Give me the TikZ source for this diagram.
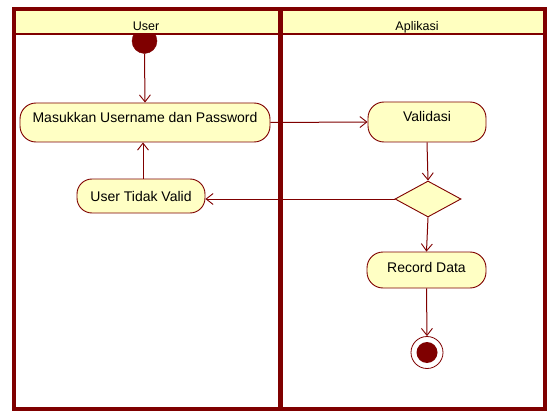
\documentclass[tikz,border=0pt]{standalone}
\usepackage{fontspec}
\setmainfont{Liberation Sans}
\usetikzlibrary{arrows.meta,shapes.geometric}
\definecolor{dred}{HTML}{7F0000}
\definecolor{nfill}{HTML}{FFFFC4}
\definecolor{hfill}{HTML}{FFFFC0}
\begin{document}
\begin{tikzpicture}[x=1pt,y=-1pt,
  act/.style={draw=dred, line width=0.9pt, fill=nfill, rounded corners=16pt,
    inner sep=0pt, font=\fontsize{14}{16}\selectfont},
  hitext/.style={text height=10pt, text depth=10pt},
  midtext/.style={text height=10pt, text depth=5pt},
  flow/.style={draw=dred, line width=1pt, -{Straight Barb[length=7pt,width=11pt,line width=0.9pt]}},
  lanehead/.style={font=\fontsize{12.5}{14}\selectfont, anchor=base, inner sep=0pt},
  decision/.style={draw=dred, line width=0.9pt, fill=nfill, diamond, inner sep=0pt},
  startnode/.style={circle, fill=dred, draw=dred, inner sep=0pt},
]
\useasboundingbox (0,0) rectangle (547,412);
\fill[white] (0,0) rectangle (547,412);

% start node (top hidden by header)
\node[startnode, minimum size=25pt] (start) at (144.5,41) {};

% swimlane header and frame
\fill[hfill] (14,9.5) rectangle (545,34);
\draw[dred, line width=2.5pt] (14,34) -- (545,34);
\draw[dred, line width=5pt] (280,9.5) -- (280,409);
\draw[dred, line width=4pt] (14,9.5) rectangle (545,409);
\node[lanehead] (hUser) at (146,31) {User};
\node[lanehead] (hApp) at (417,31) {Aplikasi};

% activities
\node[act, hitext, minimum width=250pt, minimum height=39pt] (masuk) at (145,122.5) {Masukkan Username dan Password};
\node[act, minimum width=128pt, minimum height=34pt, rounded corners=15pt] (utv) at (141,196) {User Tidak Valid};
\node[act, hitext, minimum width=118pt, minimum height=40pt] (valid) at (427,122) {Validasi};
\node[decision, minimum width=66pt, minimum height=36pt, aspect=1.83] (dec) at (428,199) {};
\node[act, midtext, minimum width=119pt, minimum height=36pt] (rec) at (426.5,270) {Record Data};

% end node
\node[circle, draw=dred, line width=0.8pt, fill=white, minimum size=32pt, inner sep=0pt] (endo) at (427,352.5) {};
\node[circle, fill=dred, minimum size=21pt, inner sep=0pt] (endi) at (endo) {};

% flows
\draw[flow] (start.south) -- (masuk.north);
\draw[flow] (masuk.east) -- (valid.west);
\draw[flow] (valid.south) -- (dec.north);
\draw[flow] (dec.west) -- (dec.west -| utv.east);
\draw[flow] ([xshift=2pt]utv.north) -- ([xshift=2pt]utv.north |- masuk.south);
\draw[flow] (dec.south) -- (rec.north);
\draw[flow] (rec.south) -- (endo.north);
\end{tikzpicture}
\end{document}
